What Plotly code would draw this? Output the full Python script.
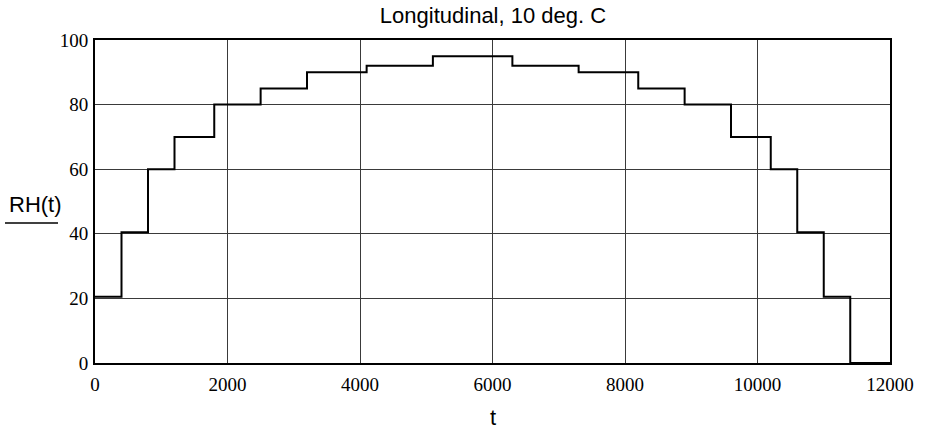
import plotly.graph_objects as go

# Step boundaries (t) and RH level on each interval
t_edges = [0, 400, 800, 1200, 1800, 2500, 3200, 4100, 5100, 6300,
           7300, 8200, 8900, 9600, 10200, 10600, 11000, 11400, 12000]
rh_levels = [20.5, 40.5, 60, 70, 80, 85, 90, 92, 95, 92,
             90, 85, 80, 70, 60, 40.5, 20.5, 0]

x_ticks = [0, 2000, 4000, 6000, 8000, 10000, 12000]
y_ticks = [0, 20, 40, 60, 80, 100]

x_vals = t_edges
y_vals = rh_levels + [rh_levels[-1]]

W, H = 933, 432
L, R, T, B = 95, 43, 40, 69
pw, ph = W - L - R, H - T - B

SERIF = "Liberation Serif, Times New Roman, Times, DejaVu Serif, serif"
SANS = "Liberation Sans, Arial, sans-serif"

fig = go.Figure()
fig.add_trace(go.Scatter(x=x_vals, y=y_vals, mode="lines", line_shape="hv",
                         line=dict(color="black", width=2), showlegend=False,
                         hoverinfo="skip"))

axis_common = dict(showline=True, mirror=True, linecolor="black", linewidth=2,
                   showgrid=True, gridcolor="#3a3a3a", gridwidth=1,
                   zeroline=False, ticks="",
                   tickfont=dict(family=SERIF, size=19, color="black"))

fig.update_xaxes(range=[0, 12000], tickvals=x_ticks,
                 ticktext=[str(v) for v in x_ticks], ticklabelstandoff=3,
                 **axis_common)
fig.update_yaxes(range=[0, 100], tickvals=y_ticks,
                 ticktext=[str(v) for v in y_ticks], ticklabelstandoff=1,
                 **axis_common)

fig.update_layout(
    width=W, height=H,
    margin=dict(l=L, r=R, t=T, b=B),
    paper_bgcolor="white", plot_bgcolor="white",
    title=dict(text="Longitudinal, 10 deg. C", x=493 / W, xanchor="center",
               y=1 - 15 / H, yanchor="middle", xref="container", yref="container",
               font=dict(family=SANS, size=22, color="black")),
    annotations=[
        dict(text="RH(t)", xref="paper", yref="paper",
             x=(35 - L) / pw, y=(H - B - 204) / ph, xanchor="center", yanchor="middle",
             showarrow=False, font=dict(family=SANS, size=22, color="black")),
        dict(text="t", xref="paper", yref="paper",
             x=(493 - L) / pw, y=(H - B - 417) / ph, xanchor="center", yanchor="middle",
             showarrow=False, font=dict(family=SANS, size=22, color="black")),
    ],
    shapes=[
        dict(type="line", xref="paper", yref="paper",
             x0=(5 - L) / pw, x1=(58 - L) / pw,
             y0=(H - B - 223) / ph, y1=(H - B - 223) / ph,
             line=dict(color="black", width=1.5)),
    ],
)

fig.write_html("out.html", config={"displayModeBar": False},
               post_script="document.body.style.margin='0';document.body.style.overflow='hidden';")
